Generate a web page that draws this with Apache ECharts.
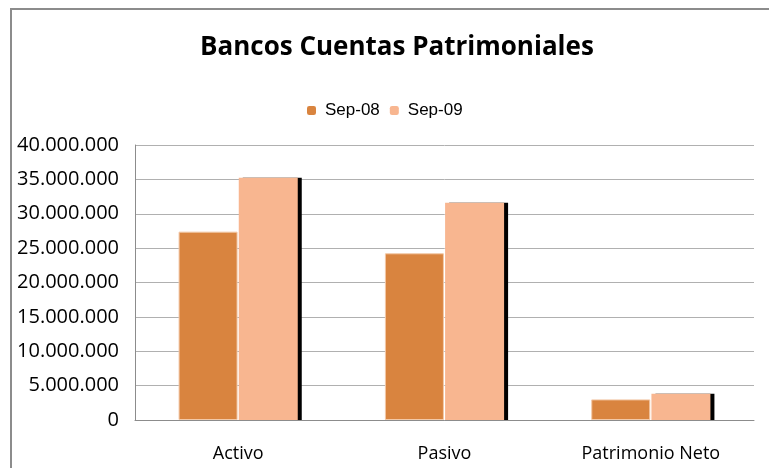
<!DOCTYPE html>
<html>
<head>
<meta charset="utf-8">
<script src="https://cdn.jsdelivr.net/npm/echarts@6/dist/echarts.min.js"></script>
<style>
  html, body { margin: 0; padding: 0; background: #fff; }
  #main { width: 769px; height: 468px; }
</style>
</head>
<body>
<div id="main"></div>
<script>
// datos
var categorias = ['Activo', 'Pasivo', 'Patrimonio Neto'];
var sep08 = [27400000, 24250000, 3000000];
var sep09 = [35250000, 31600000, 3830000];
var nombres = ['Sep-08', 'Sep-09'];

// 40.000.000
function miles(v) {
    return String(v).replace(/\B(?=(\d{3})+(?!\d))/g, '.');
}

var myChart = echarts.init(document.getElementById('main'));
var option = {
    animation: false,
    title: {
        text: 'Bancos Cuentas Patrimoniales',
        left: 195,
        top: 30,
        textStyle: {
            fontFamily: 'Open Sans',
            fontWeight: 'bold',
            fontSize: 26,
            color: '#000'
        }
    },
    legend: {
        data: nombres,
        left: 302,
        top: 97,
        itemWidth: 9,
        itemHeight: 9,
        itemGap: 10,
        itemStyle: { borderWidth: 0, shadowColor: 'transparent' },
        textStyle: {
            fontFamily: 'Liberation Sans',
            fontSize: 17,
            color: '#000',
            padding: [0, 0, 0, 4]
        }
    },
    graphic: [{
        type: 'rect',
        shape: { x: 11, y: 9, width: 820, height: 520 },
        style: { fill: 'none', stroke: '#8c8c8c', lineWidth: 2 },
        silent: true
    }],
    grid: {
        left: 135,
        right: 15,
        top: 145,
        bottom: 48
    },
    xAxis: {
        type: 'category',
        data: categorias,
        axisTick: { show: false },
        axisLine: { lineStyle: { color: '#8c8c8c', width: 1 } },
        axisLabel: {
            margin: 25,
            fontFamily: 'Open Sans',
            fontSize: 18,
            color: '#000'
        }
    },
    yAxis: {
        type: 'value',
        min: 0,
        max: 40000000,
        interval: 5000000,
        axisLine: { show: true, lineStyle: { color: '#8c8c8c', width: 1 } },
        axisTick: { show: false },
        splitLine: { lineStyle: { color: '#b0b0b0', width: 1 } },
        axisLabel: {
            margin: 16,
            fontFamily: 'Open Sans',
            fontSize: 20,
            color: '#000',
            formatter: miles
        }
    },
    series: [{
        name: nombres[0],
        type: 'bar',
        data: sep08,
        barWidth: 59,
        barGap: '2%',
        itemStyle: {
            color: '#D9843F',
            borderColor: '#f3c9a8',
            borderWidth: 1
        }
    }, {
        name: nombres[1],
        type: 'bar',
        data: sep09,
        barWidth: 59,
        barGap: '2%',
        itemStyle: {
            color: '#F8B690',
            borderWidth: 0,
            shadowColor: '#000',
            shadowBlur: 0,
            shadowOffsetX: 4,
            shadowOffsetY: 0
        }
    }]
};

myChart.setOption(option);
</script>
</body>
</html>
